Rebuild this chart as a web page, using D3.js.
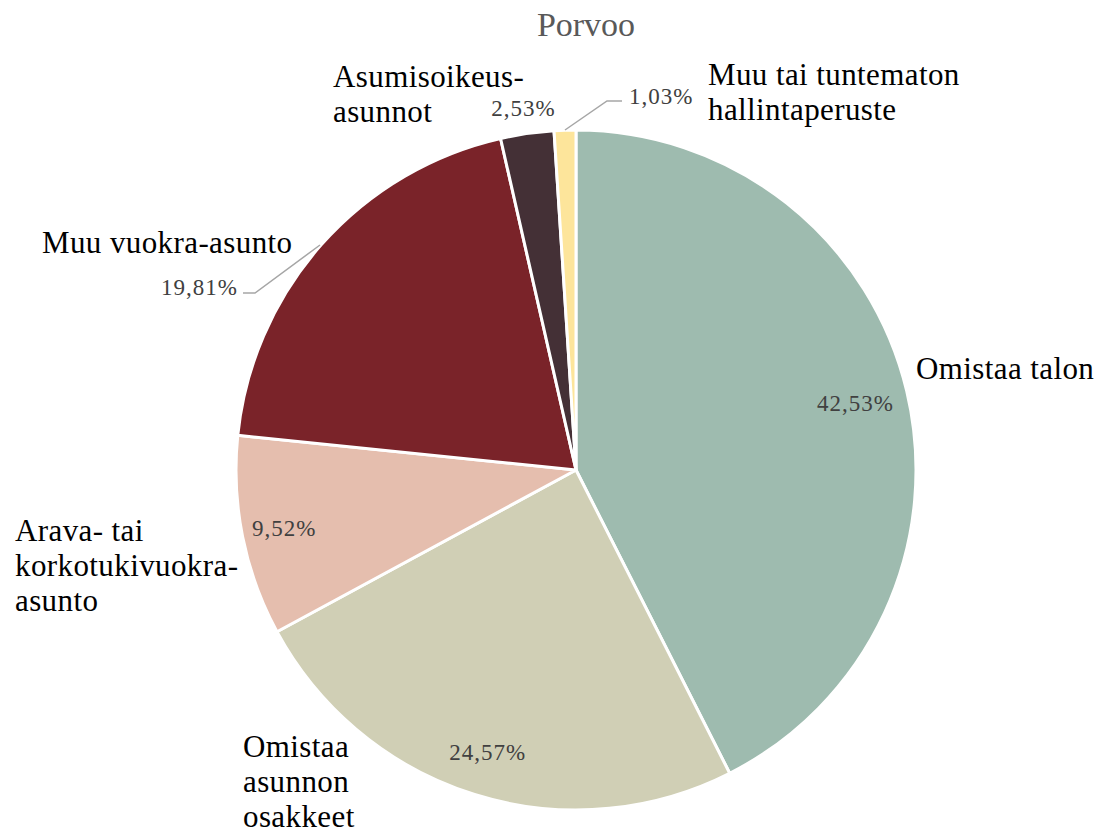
<!DOCTYPE html>
<html>
<head>
<meta charset="utf-8">
<script src="https://cdn.jsdelivr.net/npm/d3@7"></script>
<style>
  body { margin: 0; background: #fff; }
  svg text { font-family: "Liberation Serif", "DejaVu Serif", serif; }
</style>
</head>
<body>
<svg id="chart" width="1104" height="838"></svg>
<script>
// Data
const categories = [
    ["Omistaa talon"],
    ["Omistaa", "asunnon", "osakkeet"],
    ["Arava- tai", "korkotukivuokra-", "asunto"],
    ["Muu vuokra-asunto"],
    ["Asumisoikeus-", "asunnot"],
    ["Muu tai tuntematon", "hallintaperuste"]
];
const values = [42.53, 24.57, 9.52, 19.81, 2.53, 1.03];
const colors = ["#9ebbaf", "#d0cfb5", "#e5beae", "#7a2329", "#443036", "#fde59b"];

// Layout
const cx = 576, cy = 470, radius = 340;
const lineH = 35;
// category label anchor (left x, first baseline y)
const catPos = [[916, 379], [243, 757], [15, 541], [42, 253], [333, 87], [708, 85]];
// percentage label: radius factor for inside/outside, and manual placement for outside ones
const pctInfo = [
    { rf: 0.845 }, { rf: 0.87 }, { rf: 0.875 },
    { outside: true, text: [238, 295], anchor: "end", line: [[320, 245], [255, 293], [243, 293]] },
    { rf: 1.075 },
    { outside: true, text: [629, 104], anchor: "start", line: [[565, 130], [607, 101], [622, 101]] }
];

const svg = d3.select("#chart");

svg.append("text")
    .attr("x", 586)
    .attr("y", 36)
    .attr("text-anchor", "middle")
    .attr("font-size", 34)
    .attr("fill", "#595959")
    .text("Porvoo");

const pie = d3.pie().sort(null).value(d => d)(values);
const arc = d3.arc().innerRadius(0).outerRadius(radius);

const g = svg.append("g").attr("transform", `translate(${cx},${cy})`);

g.selectAll("path")
    .data(pie)
    .enter()
    .append("path")
    .attr("d", arc)
    .attr("fill", (d, i) => colors[i])
    .attr("stroke", "white")
    .attr("stroke-width", 3)
    .attr("stroke-linejoin", "round");

const fmt = v => d3.format(".2f")(v).replace(".", ",") + "%";

// Percentage labels
pie.forEach((d, i) => {
    const info = pctInfo[i];
    let t;
    if (info.outside) {
        svg.append("path")
            .attr("d", d3.line()(info.line))
            .attr("fill", "none")
            .attr("stroke", "#a6a6a6")
            .attr("stroke-width", 1.5);
        t = svg.append("text")
            .attr("x", info.text[0])
            .attr("y", info.text[1])
            .attr("text-anchor", info.anchor);
    } else {
        const a = (d.startAngle + d.endAngle) / 2;
        const r = radius * info.rf;
        t = g.append("text")
            .attr("x", Math.sin(a) * r)
            .attr("y", -Math.cos(a) * r)
            .attr("dy", "0.35em")
            .attr("text-anchor", "middle");
    }
    t.attr("font-size", 23)
        .attr("letter-spacing", 1)
        .attr("fill", "#404040")
        .text(fmt(values[i]));
});

// Category labels
categories.forEach((lines, i) => {
    const t = svg.append("text")
        .attr("x", catPos[i][0])
        .attr("y", catPos[i][1])
        .attr("font-size", 31)
        .attr("letter-spacing", 0.4)
        .attr("fill", "#000");
    lines.forEach((s, j) => {
        t.append("tspan")
            .attr("x", catPos[i][0])
            .attr("y", catPos[i][1] + j * lineH)
            .text(s);
    });
});
</script>
</body>
</html>
